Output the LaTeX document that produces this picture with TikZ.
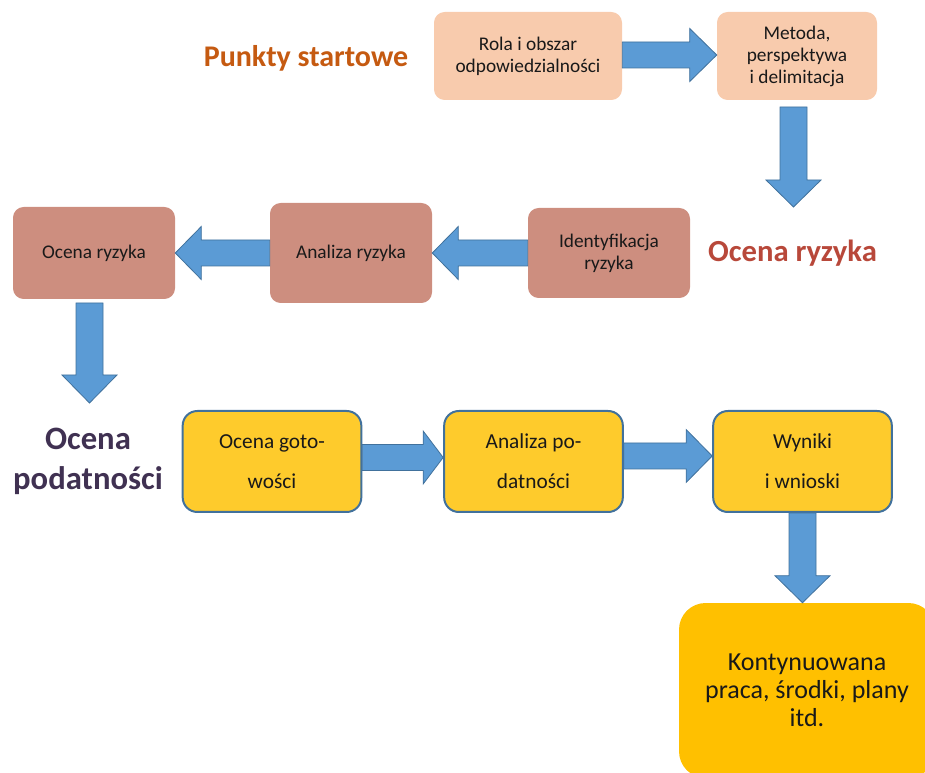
\documentclass[tikz,border=0pt]{standalone}
\usepackage{fontspec}
\setmainfont{Carlito}
\usetikzlibrary{calc}

\definecolor{peach}{RGB}{248,203,173}
\definecolor{rosy}{RGB}{205,142,127}
\definecolor{sun}{RGB}{254,203,44}
\definecolor{gold}{RGB}{255,192,0}
\definecolor{arrowfill}{RGB}{91,155,213}
\definecolor{arrowline}{RGB}{65,113,156}
\definecolor{startcol}{RGB}{197,90,17}
\definecolor{riskcol}{RGB}{184,72,58}
\definecolor{vulncol}{RGB}{64,49,82}
\definecolor{ink}{RGB}{25,25,25}

% horizontal block arrow: #1 tail, #2 tip, #3 vertical shift, #4 signed head length
\newcommand{\blockH}[4]{%
  \draw[barrow] ($(#1)+(0,{#3-13})$) -- ($(#2)+({-1*(#4)},{#3-13})$)
    -- ($(#2)+({-1*(#4)},{#3-26.5})$) -- ($(#2)+(0,#3)$)
    -- ($(#2)+({-1*(#4)},{#3+26.5})$) -- ($(#2)+({-1*(#4)},{#3+13})$)
    -- ($(#1)+(0,{#3+13})$) -- cycle;}
% downward block arrow: #1 tail, #2 tip, #3 head length
\newcommand{\blockV}[3]{%
  \draw[barrow] ($(#1)+(-13.5,0)$) -- ($(#2)+(-13.5,{-1*(#3)})$)
    -- ($(#2)+(-27.5,{-1*(#3)})$) -- (#2)
    -- ($(#2)+(27.5,{-1*(#3)})$) -- ($(#2)+(13.5,{-1*(#3)})$)
    -- ($(#1)+(13.5,0)$) -- cycle;}

\begin{document}
\begin{tikzpicture}[x=0.75pt,y=-0.75pt,
  barrow/.style={fill=arrowfill,draw=arrowline,line width=0.6pt,line join=miter},
  softbox/.style={rectangle,rounded corners=8pt,inner sep=0pt,align=center,
    text=ink,font=\fontsize{14.5}{16.5}\selectfont},
  sunbox/.style={rectangle,rounded corners=11pt,inner sep=0pt,align=center,
    fill=sun,draw=arrowline,line width=1.5pt,text=ink,
    minimum width=134pt,minimum height=75.75pt,
    font=\fontsize{16}{30}\selectfont},
  headline/.style={font=\bfseries\fontsize{23}{30}\selectfont,align=center}]

\useasboundingbox (0,0) rectangle (925,773);
\clip (0,0) rectangle (925,773);

% starting points
\node[softbox,fill=peach,minimum width=141pt,minimum height=66pt] (rola) at (528,56)
  {Rola i obszar\\odpowiedzialności};
\node[softbox,fill=peach,minimum width=120pt,minimum height=66pt] (metoda) at (797,56)
  {Metoda,\\perspektywa\\i delimitacja};
\node[headline,text=startcol,font=\bfseries\fontsize{22.5}{30}\selectfont] (lstart) at (306,58)
  {Punkty startowe};

% risk assessment
\node[softbox,fill=rosy,minimum width=121.5pt,minimum height=67.5pt] (ident) at (609,253)
  {Identyfikacja\\ryzyka};
\node[softbox,fill=rosy,minimum width=121.5pt,minimum height=75pt] (analiza) at (351,253)
  {Analiza ryzyka};
\node[softbox,fill=rosy,minimum width=121.5pt,minimum height=69pt] (ocenar) at (94,253)
  {Ocena ryzyka};
\node[headline,text=riskcol] (lrisk) at (792.5,253) {Ocena ryzyka};

% vulnerability assessment
\node[sunbox] (gotow) at (272,461.5) {Ocena goto-\\wości};
\node[sunbox] (podat) at (533.5,461.5) {Analiza po-\\datności};
\node[sunbox] (wyniki) at (802.5,461.5) {Wyniki\\i wnioski};
\node[headline,text=vulncol,font=\bfseries\fontsize{24.5}{30}\selectfont] (lvuln) at (88,461)
  {Ocena\\podatności};

% follow-up work, running past the lower right edge
\node[rectangle,rounded corners=20pt,fill=gold,inner sep=0pt,align=center,text=ink,
  minimum width=192pt,minimum height=131.25pt,
  font=\fontsize{19.5}{21}\selectfont] (kont) at (807,690.5)
  {Kontynuowana\\praca, środki, plany\\itd.};

% free arrow ends
\coordinate (t1) at (793.5,207);
\coordinate (s1) at (793.5,107);
\coordinate (t2) at (89.5,403);
\coordinate (s2) at (89.5,303);
\coordinate (s3) at (wyniki.south);
\coordinate (t3) at (wyniki.south |- kont.north);

% block arrows
\blockH{rola.east}{metoda.west}{-1}{27}
\blockV{s1}{t1}{27}
\blockH{ident.west}{analiza.east}{0}{-26}
\blockH{analiza.west}{ocenar.east}{0}{-26}
\blockV{s2}{t2}{28}
\blockH{gotow.east}{podat.west}{-4}{20}
\blockH{podat.east}{wyniki.west}{-5.5}{26}
\blockV{s3}{t3}{27}

\end{tikzpicture}
\end{document}
